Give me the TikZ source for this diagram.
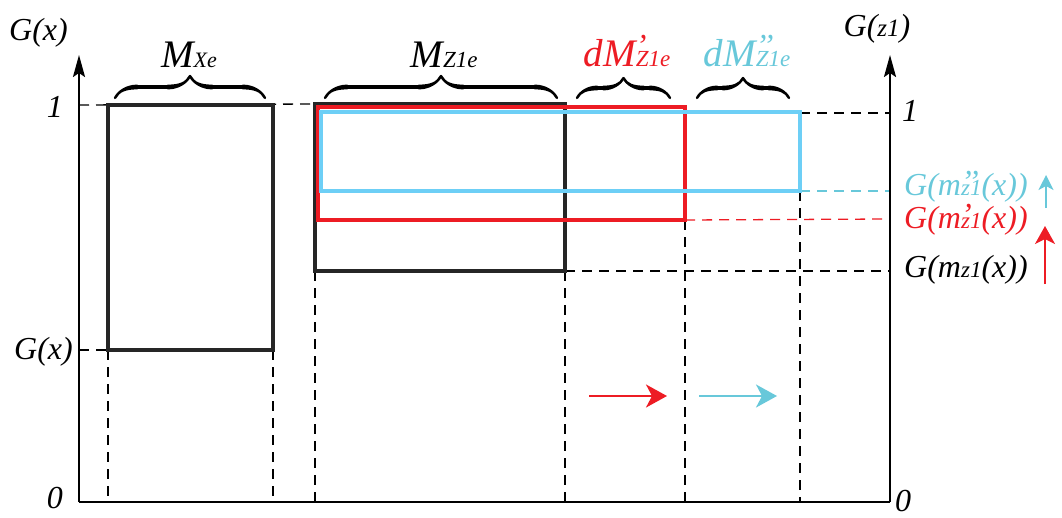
\documentclass[tikz,border=0pt]{standalone}
\usepackage{fontspec}
\setmainfont{Liberation Serif}
\newfontfamily\tms{Liberation Serif Italic}
\usetikzlibrary{arrows.meta,decorations.pathreplacing,calligraphy}
\definecolor{myred}{RGB}{237,28,36}
\definecolor{boxblue}{RGB}{109,207,246}
\definecolor{txtblue}{RGB}{104,200,218}
\newcommand{\fs}[1]{\fontsize{#1}{#1}\selectfont}
\newcommand{\sbs}[2]{{\fs{#1}#2}}
\begin{document}
\begin{tikzpicture}[x=1pt,y=-1pt,
 lbl/.style={inner sep=0pt, font=\tms\fs{32}},
 big/.style={inner sep=0pt, font=\tms\fs{39}},
 axisline/.style={line width=2.2pt, -{Stealth[length=22pt,width=12pt,inset=4pt]}},
 baseaxis/.style={line width=2.2pt},
 boxk/.style={draw=black!85, line width=3.4pt},
 boxr/.style={draw=myred, line width=3.4pt},
 boxb/.style={draw=boxblue, line width=3.4pt},
 dsh/.style={line width=1.3pt, dash pattern=on 10pt off 7pt},
 brc/.style={decorate, decoration={calligraphic brace, amplitude=22pt}, line width=4.8pt},
 harrow/.style={line width=2.2pt, -{Stealth[length=21pt,width=23pt,inset=6pt]}},
]
\useasboundingbox (0,0) rectangle (1062,517);
% axes
\coordinate (O) at (79,502);
\coordinate (Ltop) at (79,55);
\coordinate (R0) at (890,502);
\coordinate (Rtop) at (890,55);
% boxes corners
\coordinate (A1) at (108,105); \coordinate (A2) at (273,350);
\coordinate (B1) at (315,104); \coordinate (B2) at (565,271);
\coordinate (C1) at (318,107); \coordinate (C2) at (685,220);
\coordinate (D1) at (321,112); \coordinate (D2) at (800,191);
% dashed guides
\draw[dsh] (79,105) -- (B1);
\draw[dsh] (79,350) -- (108,350);
\draw[dsh] (108,350) -- (108,502);
\draw[dsh] (273,350) -- (273,502);
\draw[dsh] (315,271) -- (315,502);
\draw[dsh] (B2) -- (565,502);
\draw[dsh] (C2) -- (685,502);
\draw[dsh] (D2) -- (800,502);
\draw[dsh] (800,113) -- (890,113);
\draw[dsh, txtblue] (D2) -- (890,191);
\draw[dsh, myred] (C2) -- (890,219);
\draw[dsh] (B2) -- (890,271);
% boxes
\draw[boxk] (A1) rectangle (A2);
\draw[boxk] (B1) rectangle (B2);
\draw[boxr] (C1) rectangle (C2);
\draw[boxb] (D1) rectangle (D2);
% axes
\draw[baseaxis] (O) -- (R0);
\draw[axisline] (O) -- (Ltop);
\draw[axisline] (R0) -- (Rtop);
% braces
\draw[brc] (115,98) -- (265,98);
\draw[brc] (325,98) -- (557,98);
\draw[brc, decoration={calligraphic brace, amplitude=20pt}] (577,98) -- (670,98);
\draw[brc, decoration={calligraphic brace, amplitude=20pt}] (697,98) -- (789,98);
% brace labels
\node[big, anchor=base] (mx) at (189,67) {M\sbs{22}{Xe}};
\node[big, anchor=base] (mz) at (444,67) {M\sbs{23}{Z1e}};
\node[big, anchor=base, text=myred] (dm1) at (627,66) {dM\rlap{\raisebox{10pt}{\fs{32}’}}\sbs{23}{Z1e}};
\node[big, anchor=base, text=txtblue] (dm2) at (747,66) {dM\rlap{\raisebox{10pt}{\fs{32}’’}}\sbs{23}{Z1e}};
% axis labels
\node[lbl, anchor=base west] (gx) at (9,40) {G(x)};
\node[lbl, anchor=base] (gz) at (877,36) {G(\sbs{25}{z1})};
\node[lbl, anchor=base east] (one) at (63,117) {1};
\node[lbl, anchor=base east] (gxl) at (73,359) {G(x)};
\node[lbl, anchor=base east] (zero) at (63,508) {0};
\node[lbl, anchor=base west] (oner) at (902,121) {1};
\node[lbl, anchor=base west] (zeror) at (895,511) {0};
% right labels
\node[lbl, anchor=base west, text=txtblue] (l2) at (904,195) {G(m\rlap{\raisebox{3pt}{’’}}\sbs{23}{z1}(x))};
\node[lbl, anchor=base west, text=myred] (l1) at (904,228) {G(m\rlap{\raisebox{3pt}{’}}\sbs{23}{z1}(x))};
\node[lbl, anchor=base west] (l0) at (904,277) {G(m\sbs{23}{z1}(x))};
% arrows
\coordinate (ba1) at (1046,208); \coordinate (ba2) at (1046,175);
\coordinate (ra1) at (1045,284); \coordinate (ra2) at (1045,226);
\draw[line width=1.6pt, txtblue, -{Stealth[length=15pt,width=15pt,inset=4pt]}] (ba1) -- (ba2);
\draw[line width=2pt, myred, -{Stealth[length=18pt,width=20pt,inset=5pt]}] (ra1) -- (ra2);
\coordinate (h1) at (589,396); \coordinate (h2) at (667,396);
\coordinate (h3) at (699,396); \coordinate (h4) at (777,396);
\draw[harrow, myred] (h1) -- (h2);
\draw[harrow, txtblue] (h3) -- (h4);
\end{tikzpicture}
\end{document}
